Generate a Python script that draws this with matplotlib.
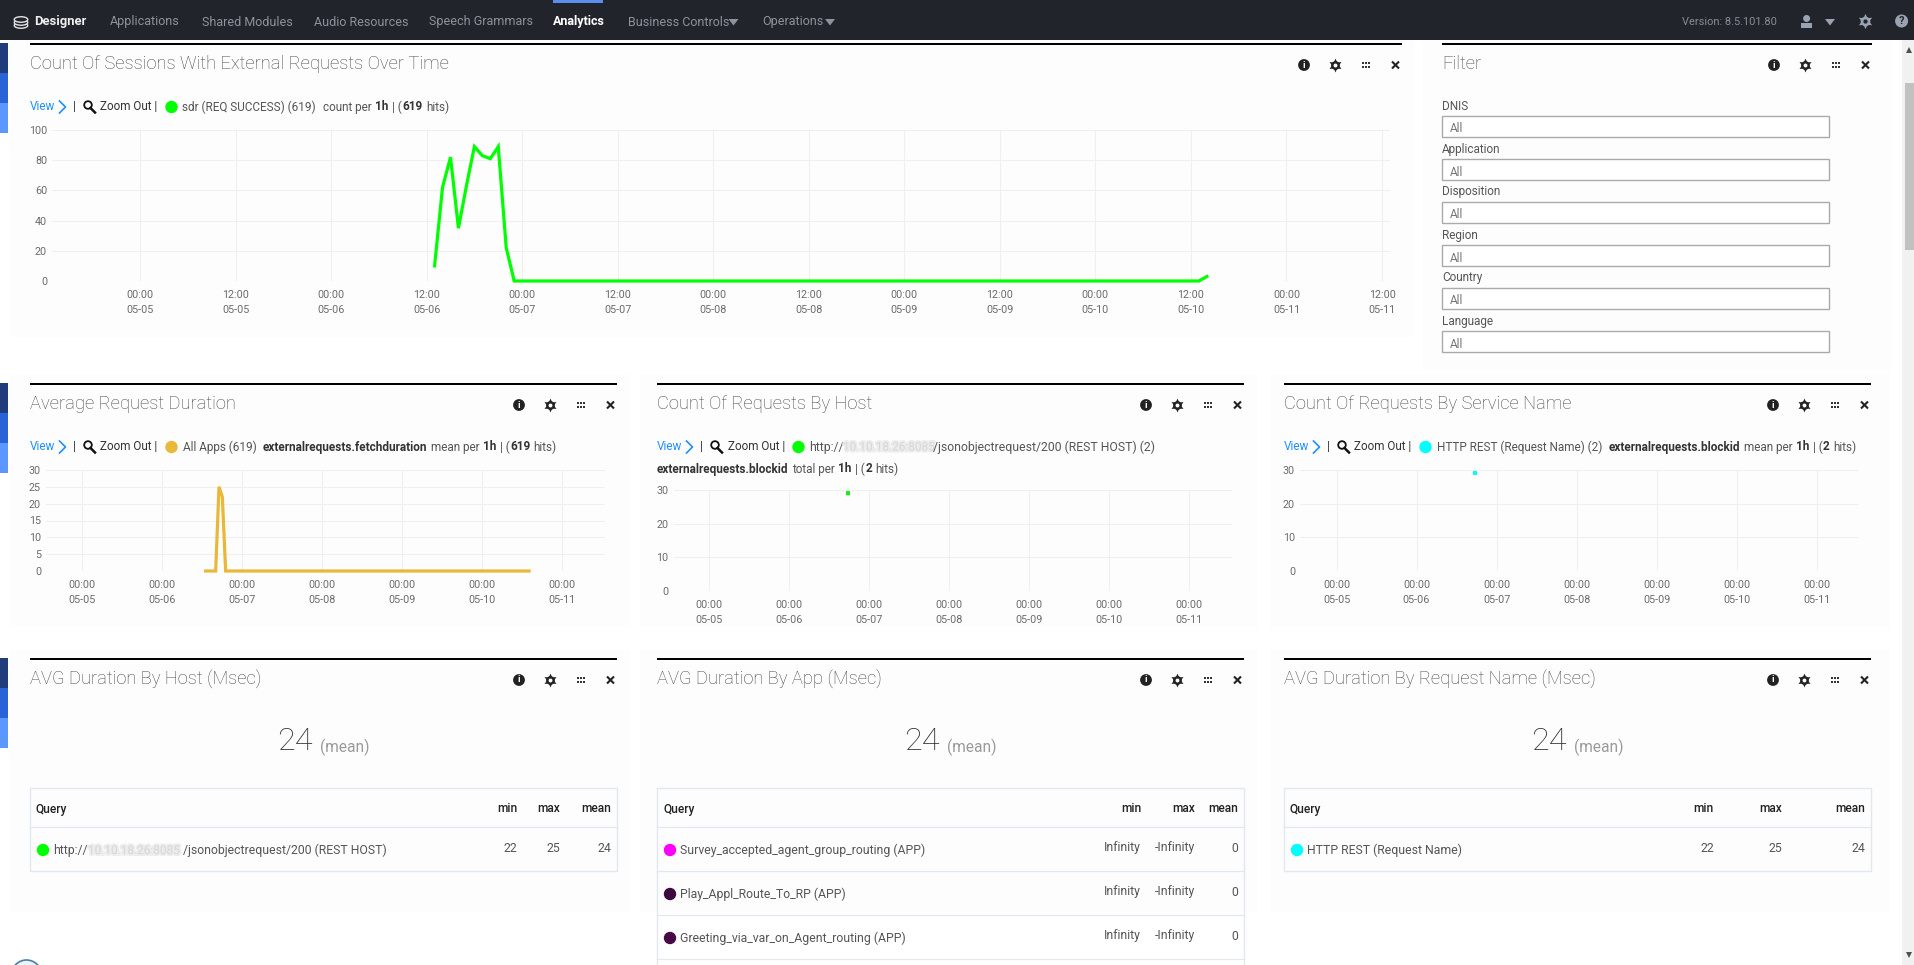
import matplotlib
matplotlib.use('Agg')
import matplotlib.pyplot as plt
from matplotlib.patches import Rectangle, Circle, Ellipse, Polygon
import matplotlib.patheffects as pe

W, H = 1914, 965
plt.rcParams['font.family'] = ['Roboto', 'DejaVu Sans']

#-------------------------------Data-------------------------------------
# x values are hours since 05-05 00:00
session_hours = [37, 38, 39, 40, 41, 42, 43, 44, 45, 46, 47, 133, 134]
session_counts = [10, 62, 82, 35, 63, 89, 83, 81, 89, 22, 0, 0, 3]

duration_hours = [37, 40, 41, 42, 43, 134]
duration_means = [0, 0, 25, 22, 0, 0]

host_hours = [41.5]
host_totals = [29]
service_hours = [41.5]
service_means = [29]

half_day_ticks = list(range(0, 157, 12))
half_day_times = ['00:00', '12:00'] * 7
half_day_dates = ['05-05', '05-05', '05-06', '05-06', '05-07', '05-07', '05-08', '05-08',
                  '05-09', '05-09', '05-10', '05-10', '05-11', '05-11']
day_ticks = list(range(0, 145, 24))
day_dates = ['05-05', '05-06', '05-07', '05-08', '05-09', '05-10', '05-11']

nav_items = ['Applications', 'Shared Modules', 'Audio Resources', 'Speech Grammars', 'Analytics',
             'Business Controls', 'Operations']
nav_x = [110, 202, 313.5, 429, 553, 628, 762]
filter_names = ['DNIS', 'Application', 'Disposition', 'Region', 'Country', 'Language']

app_names = ['Survey_accepted_agent_group_routing (APP)', 'Play_Appl_Route_To_RP (APP)',
             'Greeting_via_var_on_Agent_routing (APP)']
app_colors = ['#ff00ff', '#3b0a3e', '#470a47']

GREEN = '#00ff00'
ORANGE = '#eab839'
CYAN = '#00ffff'
TICK = '#6b6b6b'
GRID = '#f0f0f0'
TXT = '#555555'
DARK = '#333333'
BLUE = '#1e90ff'
PANEL = '#fdfdfd'
BORDER = '#e3e8f0'

fig = plt.figure(figsize=(W / 100, H / 100), dpi=100, facecolor='white')
bg = fig.add_axes([0, 0, 1, 1], zorder=0)
bg.set_xlim(0, W)
bg.set_ylim(H, 0)
bg.axis('off')
renderer = fig.canvas.get_renderer()


def box(x0, y0, x1, y1, **kw):
    kw.setdefault('linewidth', 0)
    bg.add_patch(Rectangle((x0, y0), x1 - x0, y1 - y0, **kw))


def txt(x, y, s, size=12, color=TXT, weight='normal', ha='left', **kw):
    # size is in pixels, the same unit as the reference
    return bg.text(x, y, s, fontsize=size * 0.72, color=color, fontweight=weight, ha=ha, va='center', **kw)


def runs(x, y, parts, size=11.8):
    # Lay out mixed regular/bold text one after the other
    for s, weight in parts:
        t = txt(x, y, s, size=size, weight=weight, color=('#333333' if weight == 'bold' else TXT))
        x += t.get_window_extent(renderer).width + (0.5 if s.endswith('(') else 3.4)
    return x


def dot(x, y, color, r=6.2):
    bg.add_patch(Circle((x, y), r, facecolor=color, linewidth=0))


def gear(x, y, color, hole, scale=1.0):
    bg.plot([x], [y], marker=(6, 1, 0), ms=10 * scale, color=color, mew=0)
    bg.plot([x], [y], marker='o', ms=6.3 * scale, color=color, mew=0)
    bg.plot([x], [y], marker='o', ms=2.8 * scale, color=hole, mew=0)


def tri(x, y, color):
    bg.add_patch(Polygon([(x - 5, y - 3), (x + 5, y - 3), (x, y + 3.5)], facecolor=color, linewidth=0))


def icons(right, y):
    # info, gear, handle, close
    dot(right - 98, y, '#222222', 5.9)
    txt(right - 98, y, 'i', size=9.5, color='white', weight='bold', ha='center')
    gear(right - 67, y, '#222222', PANEL)
    for dx in [-3.4, 0, 3.4]:
        for dy in [-1.8, 1.8]:
            bg.plot([right - 36 + dx], [y + dy], marker='s', ms=1.6, color='#333333', mew=0)
    bg.plot([right - 10, right - 3], [y - 3.5, y + 3.5], color='#222222', lw=1.5, solid_capstyle='butt')
    bg.plot([right - 10, right - 3], [y + 3.5, y - 3.5], color='#222222', lw=1.5, solid_capstyle='butt')


def view_prefix(x, y):
    txt(x, y, 'View', size=11.8, color=BLUE)
    bg.plot([x + 29.5, x + 35.5, x + 29.5], [y - 6, y, y + 6], color=BLUE, lw=1.2)
    txt(x + 43, y, '|', size=11.8, color=DARK)
    bg.add_patch(Circle((x + 58, y - 2), 3.8, facecolor='none', edgecolor='#111111', lw=1.3))
    bg.plot([x + 60.5, x + 65], [y + 1, y + 5.5], color='#111111', lw=1.8)
    txt(x + 70.5, y, 'Zoom Out |', size=11.8, color=DARK)


def blurred(x, y, size=11.8):
    # The address is blurred out in the screenshot
    t = txt(x, y, '10.10.18.26:8085', size=size, color='#d2d2d2', alpha=0.6)
    t.set_path_effects([pe.withStroke(linewidth=3, foreground='#e2e2e2', alpha=0.6)])


def panel_head(x0, x1, y, title):
    box(x0, y - 1, x1, y + 1, facecolor='black')
    txt(x0, y + 20, title, size=18.4, color='#484848', weight='light')
    icons(x1, y + 21)


def chart(x0, y0, x1, y1, xlim, ylim, yticks, xticks, xlabels):
    ax = fig.add_axes([x0 / W, 1 - y1 / H, (x1 - x0) / W, (y1 - y0) / H], zorder=2)
    ax.patch.set_alpha(0)
    for s in ax.spines.values():
        s.set_visible(False)
    ax.set_xlim(*xlim)
    ax.set_ylim(*ylim)
    ax.set_yticks(yticks)
    ax.set_xticks(xticks)
    ax.set_xticklabels(xlabels, linespacing=1.7)
    ax.grid(True, color=GRID, lw=0.75)
    ax.set_axisbelow(True)
    ax.tick_params(length=0, labelsize=10.8 * 0.72, labelcolor=TICK)
    ax.tick_params(axis='x', pad=6.3)
    ax.tick_params(axis='y', pad=3.6)
    return ax


def table(x0, x1, y_top, y_bottom, lines):
    box(x0, y_top, x1, y_bottom, facecolor='none', edgecolor=BORDER, linewidth=1)
    for yl in lines:
        bg.plot([x0, x1], [yl, yl], color=BORDER, lw=0.9)


def big_number(x_24, x_mean, y=741):
    txt(x_24, y, '24', size=32.5, color=DARK, weight='light')
    txt(x_mean, y + 6, '(mean)', size=15.5, color='#9a9a9a')


#-------------------------------Page chrome-------------------------------------
box(9, 40, 1414, 337, facecolor=PANEL)
box(1422, 40, 1892, 370, facecolor=PANEL)
for x0, x1 in [(10, 630), (640, 1258), (1270, 1890)]:
    box(x0, 374, x1, 627, facecolor=PANEL)
    box(x0, 650, x1, 912, facecolor=PANEL)

box(0, 0, W, 40, facecolor='#21252b')
box(553, 0, 603, 3, facecolor='#5b8def')
for yc in [25.5, 22.5, 19.5]:
    bg.add_patch(Ellipse((21, yc), 13.5, 5.5, facecolor='#21252b', edgecolor='#e4e4e4', lw=1))
txt(34, 22, 'Designer', size=13, color='#f0f0f0', weight='bold')
for name, x in zip(nav_items, nav_x):
    if name == 'Analytics':
        txt(x, 22, name, size=12.5, color='white', weight='bold')
    else:
        txt(x, 22, name, size=12.5, color='#8d939b')
tri(733.5, 22, '#8d939b')
tri(830, 22, '#8d939b')
txt(1682, 22, 'Version: 8.5.101.80', size=11, color='#878d95')
dot(1806.6, 18.5, '#9aa3b2', 3.5)
box(1801, 23, 1812, 28, facecolor='#9aa3b2')
tri(1830, 22, '#9aa3b2')
gear(1865, 21, '#9aa3b2', '#21252b', 1.1)
dot(1901.6, 21, '#9aa3b2', 6.5)
txt(1901.6, 21, '?', size=11, color='#21252b', weight='bold', ha='center')

for y in [43, 383, 658]:
    box(0, y, 8, y + 30, facecolor='#1f3d7a')
    box(0, y + 30, 8, y + 60, facecolor='#2a62d8')
    box(0, y + 60, 8, y + 90, facecolor='#5c97ff')

box(1902, 40, W, H, facecolor='#f1f1f1')
box(1905, 83, W, 250, facecolor='#c1c1c1')
bg.plot([1909], [50], marker='^', ms=4.5, color='#505050', mew=0)
bg.plot([1909], [955], marker='v', ms=4.5, color='#505050', mew=0)

bg.add_patch(Circle((26.5, 975), 15, facecolor='#eef3f7', edgecolor='#4a7fa8', lw=1.2))

#-------------------------------Panel: sessions over time-------------------------------------
panel_head(30, 1402, 44, 'Count Of Sessions With External Requests Over Time')
view_prefix(30, 107)
dot(171.5, 107, GREEN)
runs(182.5, 107, [('sdr (REQ SUCCESS) (619)', 'normal')])
runs(323, 107, [('count per', 'normal'), ('1h', 'bold'), ('| (', 'normal'), ('619', 'bold'), ('hits)', 'normal')])

ax1 = chart(52, 130, 1390, 281, (-11.05, 157), (0, 100), [0, 20, 40, 60, 80, 100], half_day_ticks,
            [f'{a}\n{b}' for a, b in zip(half_day_times, half_day_dates)])
ax1.plot(session_hours, session_counts, color=GREEN, lw=2.3, clip_on=False, solid_joinstyle='miter')

#-------------------------------Panel: filter-------------------------------------
panel_head(1442, 1872, 44, 'Filter')
for i, name in enumerate(filter_names):
    y = 106 + 43 * i
    txt(1442, y, name, size=11.8)
    box(1442, y + 10, 1829, y + 31, facecolor='white', edgecolor='#aaaaaa', linewidth=1)
    txt(1450, y + 23, 'All', size=11.8, color='#777777')

#-------------------------------Panel: average duration-------------------------------------
panel_head(30, 617, 384, 'Average Request Duration')
view_prefix(30, 447)
dot(171.5, 447, ORANGE)
runs(183, 447, [('All Apps (619)', 'normal')])
runs(263, 447, [('externalrequests.fetchduration', 'bold'), ('mean per', 'normal'), ('1h', 'bold'),
                ('| (', 'normal'), ('619', 'bold'), ('hits)', 'normal')])
day_labels = [f'00:00\n{d}' for d in day_dates]
ax2 = chart(46, 470, 605, 571, (-10.9, 156.8), (0, 30), [0, 5, 10, 15, 20, 25, 30], day_ticks, day_labels)
ax2.plot(duration_hours, duration_means, color=ORANGE, lw=2.3, clip_on=False, solid_joinstyle='miter')

#-------------------------------Panel: requests by host-------------------------------------
panel_head(657, 1244, 384, 'Count Of Requests By Host')
view_prefix(657, 447)
dot(798.5, 447, GREEN)
txt(809, 447, 'http://', size=12.2)
blurred(843, 447)
txt(933, 447, '/jsonobjectrequest/200 (REST HOST) (2)', size=12.2)
runs(657, 469, [('externalrequests.blockid', 'bold'), ('total per', 'normal'), ('1h', 'bold'),
                ('| (', 'normal'), ('2', 'bold'), ('hits)', 'normal')])
ax3 = chart(673.5, 490, 1232, 591, (-10.77, 156.8), (0, 30), [0, 10, 20, 30], day_ticks, day_labels)
ax3.plot(host_hours, host_totals, ls='none', marker='s', ms=2.4, color=GREEN, mew=0, clip_on=False)

#-------------------------------Panel: requests by service-------------------------------------
panel_head(1284, 1871, 384, 'Count Of Requests By Service Name')
view_prefix(1284, 447)
dot(1425.5, 447, CYAN)
runs(1437, 447, [('HTTP REST (Request Name) (2)', 'normal')])
runs(1609, 447, [('externalrequests.blockid', 'bold'), ('mean per', 'normal'), ('1h', 'bold'),
                 ('| (', 'normal'), ('2', 'bold'), ('hits)', 'normal')])
ax4 = chart(1300, 470, 1859, 571, (-10.95, 156.75), (0, 30), [0, 10, 20, 30], day_ticks, day_labels)
ax4.plot(service_hours, service_means, ls='none', marker='s', ms=2.4, color=CYAN, mew=0, clip_on=False)

#-------------------------------Stat panels-------------------------------------
panel_head(30, 617, 659, 'AVG Duration By Host (Msec)')
big_number(277.5, 320)
table(30, 617, 787.5, 871, [827])
txt(36, 809, 'Query', size=12, color='#222222', weight='medium')
for right, label, value in [(517.5, 'min', '22'), (560, 'max', '25'), (611, 'mean', '24')]:
    txt(right, 809, label, size=12, color='#222222', weight='medium', ha='right')
    txt(right, 848, value, size=12.3, ha='right')
dot(43, 850, GREEN)
txt(53, 850.5, 'http://', size=12.3)
blurred(88, 850.5)
txt(183, 850.5, '/jsonobjectrequest/200 (REST HOST)', size=12.3)

panel_head(657, 1244, 659, 'AVG Duration By App (Msec)')
big_number(904.5, 947)
box(657, 787.5, 1244, H + 5, facecolor='none', edgecolor=BORDER, linewidth=1)
for yl in [827, 871, 915, 959]:
    bg.plot([657, 1244], [yl, yl], color=BORDER, lw=0.9)
txt(663, 809, 'Query', size=12, color='#222222', weight='medium')
for right, label in [(1141, 'min'), (1195, 'max'), (1238, 'mean')]:
    txt(right, 809, label, size=12, color='#222222', weight='medium', ha='right')
for i, (name, color) in enumerate(zip(app_names, app_colors)):
    y = 850 + 44 * i
    dot(670, y, color)
    txt(680, y + 0.5, name, size=12.3)
    txt(1141, y - 2, 'Infinity', size=12.3, ha='right')
    txt(1195, y - 2, '-Infinity', size=12.3, ha='right')
    txt(1238, y - 2, '0', size=12.3, ha='right')

panel_head(1284, 1871, 659, 'AVG Duration By Request Name (Msec)')
big_number(1531.6, 1574)
table(1284, 1871, 787.5, 871, [827])
txt(1290, 809, 'Query', size=12, color='#222222', weight='medium')
for right, label, value in [(1714, 'min', '22'), (1782, 'max', '25'), (1865, 'mean', '24')]:
    txt(right, 809, label, size=12, color='#222222', weight='medium', ha='right')
    txt(right, 848, value, size=12.3, ha='right')
dot(1297, 850, CYAN)
txt(1307, 850.5, 'HTTP REST (Request Name)', size=12.3)

fig.savefig('out.png', dpi=100)
